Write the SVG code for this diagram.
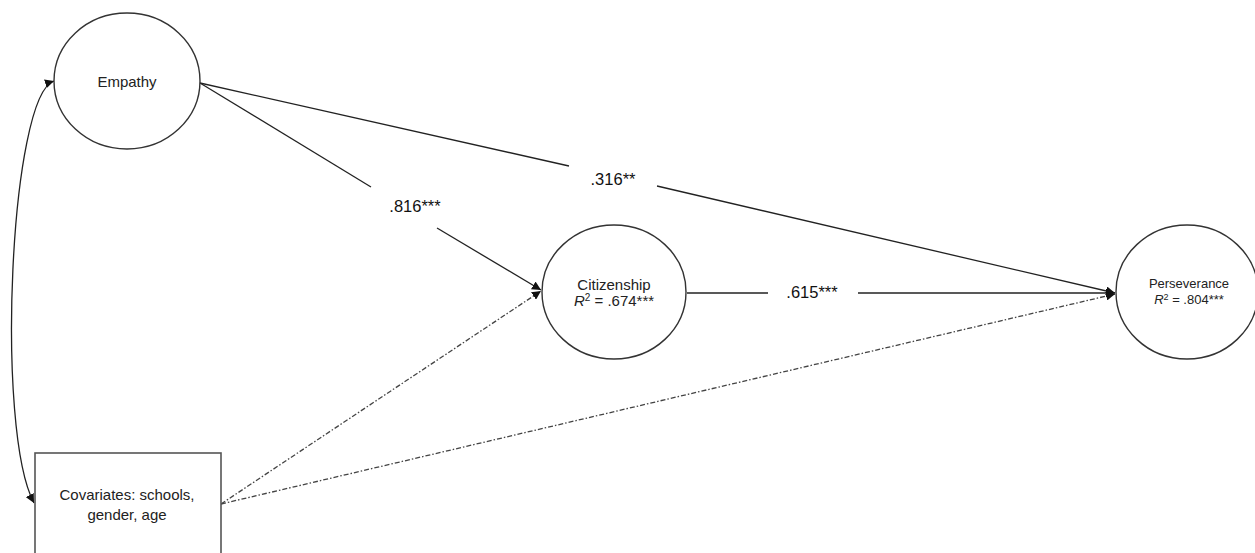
<svg xmlns="http://www.w3.org/2000/svg" width="1255" height="553" viewBox="0 0 1255 553">
<style>
.node{fill:#fff;stroke:#333;stroke-width:1.4}
.box{fill:#fff;stroke:#555;stroke-width:1.6}
.t{font-family:"Liberation Sans",Arial,sans-serif;font-size:15px;fill:#222;text-anchor:middle}
.s{font-size:13px}
.lbl{font-family:"Liberation Sans",Arial,sans-serif;font-size:16.5px;fill:#111;text-anchor:middle}
.e{fill:none;stroke:#222;stroke-width:1.3}
.d{fill:none;stroke:#444;stroke-width:1.3;stroke-dasharray:5 2 1.5 2}
</style>
<defs>
<marker id="ah" viewBox="0 0 10 10" refX="10" refY="5" markerWidth="9" markerHeight="9" markerUnits="userSpaceOnUse" orient="auto-start-reverse">
<path d="M0,0 L10,5 L0,10 z" fill="#111"/>
</marker>
</defs>
<g id="connectors">
<line class="e" x1="200" y1="83" x2="371" y2="187"/>
<line class="e" x1="437" y1="228" x2="541" y2="290" marker-end="url(#ah)"/>
<line class="e" x1="200" y1="83" x2="569" y2="166"/>
<line class="e" x1="657" y1="186" x2="1115" y2="293" marker-end="url(#ah)"/>
<line class="e" x1="687" y1="293" x2="768" y2="293"/>
<line class="e" x1="858" y1="293" x2="1115" y2="293" marker-end="url(#ah)"/>
<line class="d" x1="221" y1="504" x2="541" y2="291" marker-end="url(#ah)"/>
<line class="d" x1="221" y1="504" x2="1115" y2="294" marker-end="url(#ah)"/>
<path class="e" d="M54,81 C10,95 -5,430 34,503" marker-start="url(#ah)" marker-end="url(#ah)"/>
<text class="lbl" x="415" y="212">.816***</text>
<text class="lbl" x="613" y="185">.316**</text>
<text class="lbl" x="812" y="298">.615***</text>
</g>
<g id="empathy">
<ellipse class="node" cx="127" cy="81" rx="73" ry="68"/>
<text class="t" x="127" y="87">Empathy</text>
</g>
<g id="citizenship">
<ellipse class="node" cx="614" cy="292" rx="72" ry="67"/>
<text class="t" x="614" y="290">Citizenship</text>
<text class="t" x="614" y="306"><tspan font-style="italic">R</tspan><tspan font-size="10" dy="-5">2</tspan><tspan dy="5"> = .674***</tspan></text>
</g>
<g id="perseverance">
<ellipse class="node" cx="1187" cy="292" rx="71" ry="67"/>
<text class="t s" x="1189" y="288">Perseverance</text>
<text class="t s" x="1189" y="304"><tspan font-style="italic">R</tspan><tspan font-size="9" dy="-4">2</tspan><tspan dy="4"> = .804***</tspan></text>
</g>
<g id="covariates">
<rect class="box" x="35" y="453" width="186" height="110"/>
<text class="t" x="127" y="500">Covariates: schools,</text>
<text class="t" x="127" y="520">gender, age</text>
</g>
</svg>
